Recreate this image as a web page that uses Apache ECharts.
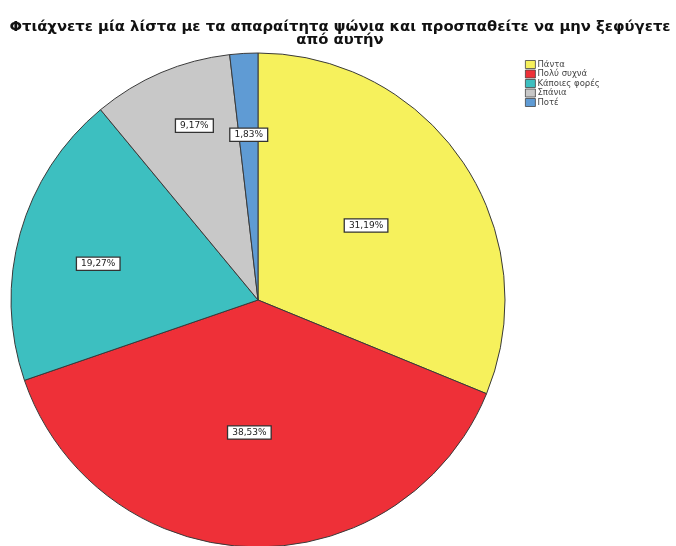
<!DOCTYPE html>
<html>
<head>
<meta charset="utf-8">
<script src="https://cdn.jsdelivr.net/npm/echarts@6/dist/echarts.min.js"></script>
<style>
  html, body { margin: 0; padding: 0; background: #ffffff; }
  #chart { width: 676px; height: 546px; }
</style>
</head>
<body>
<div id="chart"></div>
<script>
// Answer categories and their shares (percent)
const categories = ['Πάντα', 'Πολύ συχνά', 'Κάποιες φορές', 'Σπάνια', 'Ποτέ'];
const percents = [31.19, 38.53, 19.27, 9.17, 1.83];
const sliceColors = ['#f6f15c', '#ee3038', '#3dbfc0', '#c8c8c8', '#5f9bd4'];
// Nudges for the boxed percentage labels, relative to the slice's inside position
const labelNudges = [[3, -4], [-5, 6], [-38, -2], [-14, -58], [-2, -39]];

const chart = echarts.init(document.getElementById('chart'), null, { renderer: 'canvas' });

const seriesData = categories.map((name, i) => ({
  name: name,
  value: percents[i],
  itemStyle: { color: sliceColors[i] },
  label: { offset: labelNudges[i] }
}));

chart.setOption({
  animation: false,
  backgroundColor: '#ffffff',
  title: {
    text: 'Φτιάχνετε μία λίστα με τα απαραίτητα ψώνια και προσπαθείτε να μην ξεφύγετε\nαπό αυτήν',
    left: 335,
    textAlign: 'center',
    top: 15,
    textStyle: {
      fontFamily: 'DejaVu Sans, sans-serif',
      fontSize: 14.8,
      fontWeight: 'bold',
      color: '#111111',
      lineHeight: 13.5
    }
  },
  legend: {
    orient: 'vertical',
    left: 520,
    top: 55,
    itemWidth: 10,
    itemHeight: 8,
    itemGap: 0.5,
    icon: 'rect',
    data: categories,
    textStyle: {
      fontFamily: 'DejaVu Sans, sans-serif',
      fontSize: 8.5,
      lineHeight: 9,
      color: '#444444',
      padding: [0, 0, 0, -3]
    },
    itemStyle: { borderColor: '#444444', borderWidth: 0.8 }
  },
  series: [{
    type: 'pie',
    center: [258, 300],
    radius: [0, 247],
    startAngle: 90,
    clockwise: true,
    avoidLabelOverlap: false,
    itemStyle: { borderColor: '#3a3a3a', borderWidth: 1 },
    label: {
      show: true,
      position: 'inside',
      formatter: p => p.value.toFixed(2).replace('.', ',') + '%',
      fontFamily: 'DejaVu Sans, sans-serif',
      fontSize: 9,
      color: '#222222',
      backgroundColor: '#ffffff',
      borderColor: '#333333',
      borderWidth: 1.3,
      padding: [2, 4, 1, 4]
    },
    labelLine: { show: false },
    emphasis: { disabled: true },
    data: seriesData
  }]
});
</script>
</body>
</html>
